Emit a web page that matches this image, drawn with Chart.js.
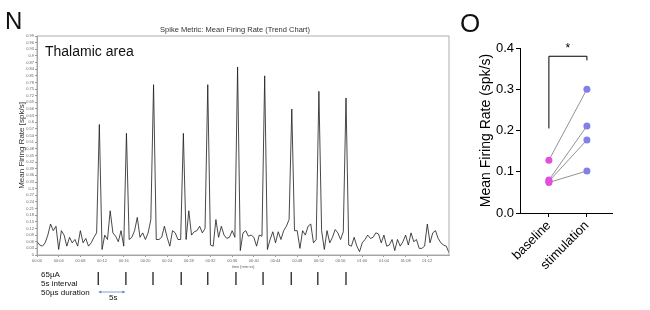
<!DOCTYPE html>
<html>
<head>
<meta charset="utf-8">
<script src="https://cdn.jsdelivr.net/npm/chart.js@4.4.1/dist/chart.umd.min.js"></script>
<style>
  body { margin: 0; background: #fff; width: 650px; height: 310px; overflow: hidden; position: relative;
         font-family: "Liberation Sans", Arial, sans-serif; }
  canvas { position: absolute; top: 0; }
  #trend { left: 0; }
  #paired { left: 450px; }
  .lbl { position: absolute; white-space: nowrap; color: #111; line-height: 1; }
</style>
</head>
<body>
<canvas id="trend" width="460" height="310"></canvas>
<canvas id="paired" width="200" height="310"></canvas>

<div class="lbl" style="left:5px;top:9px;font-size:24px">N</div>
<div class="lbl" style="left:460px;top:10px;font-size:26px">O</div>
<div class="lbl" style="left:235px;top:26px;font-size:7.5px;color:#333;transform:translateX(-50%)">Spike Metric: Mean Firing Rate (Trend Chart)</div>
<div class="lbl" style="left:45px;top:44px;font-size:14px">Thalamic area</div>
<div class="lbl" style="left:41px;top:271px;font-size:8px">65µA</div>
<div class="lbl" style="left:41px;top:280px;font-size:8px">5s interval</div>
<div class="lbl" style="left:41px;top:289px;font-size:8px">50µs duration</div>
<div class="lbl" style="left:109px;top:294px;font-size:8px">5s</div>

<script>
// ---- panel N: firing rate trace, one sample every 0.5 s ----
const sampleStep = 0.5;
const rate = [
  0.06, 0.045, 0.04, 0.055, 0.09, 0.14, 0.11, 0.13, 0.025, 0.11,
  0.09, 0.04, 0.08, 0.055, 0.07, 0.04, 0.11, 0.055, 0.075, 0.04,
  0.055, 0.08, 0.10, 0.59, 0.025, 0.09, 0.07, 0.20, 0.10, 0.085,
  0.06, 0.11, 0.04, 0.55, 0.07, 0.08, 0.11, 0.17, 0.08, 0.10,
  0.07, 0.10, 0.16, 0.77, 0.07, 0.07, 0.08, 0.13, 0.08, 0.04,
  0.11, 0.10, 0.07, 0.07, 0.55, 0.07, 0.20, 0.09, 0.105, 0.11,
  0.13, 0.10, 0.12, 0.77, 0.045, 0.04, 0.16, 0.08, 0.13, 0.09,
  0.075, 0.08, 0.11, 0.08, 0.85, 0.02, 0.10, 0.11, 0.085, 0.09,
  0.08, 0.04, 0.09, 0.085, 0.81, 0.025, 0.07, 0.105, 0.055, 0.105,
  0.07, 0.11, 0.13, 0.16, 0.66, 0.11, 0.11, 0.03, 0.11, 0.09,
  0.13, 0.14, 0.055, 0.07, 0.74, 0.11, 0.025, 0.11, 0.055, 0.08,
  0.115, 0.10, 0.07, 0.105, 0.71, 0.045, 0.04, 0.08, 0.04, 0.015,
  0.055, 0.07, 0.09, 0.075, 0.08, 0.10, 0.095, 0.055, 0.09, 0.04,
  0.045, 0.07, 0.02, 0.07, 0.04, 0.06, 0.09, 0.045, 0.10, 0.06,
  0.07, 0.03, 0.03, 0.04, 0.14, 0.055, 0.10, 0.11, 0.075, 0.055,
  0.045, 0.04, 0.01
];
const stimTimes = [11.3, 16.4, 21.4, 26.6, 31.5, 36.7, 41.7, 46.9, 51.8, 57.0];
const intervalSec = 5;
const yMaxN = 0.99;
const yStepN = 0.03;
const xMaxN = 76;
const xStepN = 4;
const lastTimeTick = 72;

// ---- panel O: paired mean firing rate ----
const groups = ['baseline', 'stimulation'];
const baseline = [0.128, 0.080, 0.077, 0.074];
const stimulation = [0.300, 0.211, 0.177, 0.102];
const yTicksO = [0, 0.1, 0.2, 0.3, 0.4];
const bracket = { top: 0.38, leftEnd: 0.205, rightEnd: 0.37, label: '*' };

const fam = "'Liberation Sans', Arial, sans-serif";
Chart.defaults.font.family = fam;
Chart.defaults.animation = false;

function mmss(v) {
  const m = Math.floor(v / 60), s = Math.round(v % 60);
  return String(m).padStart(2, '0') + ':' + String(s).padStart(2, '0');
}

const frame = {
  id: 'frame',
  afterDraw(chart) {
    const { ctx, chartArea: a } = chart;
    ctx.save();
    ctx.strokeStyle = '#9a9a9a';
    ctx.lineWidth = 0.8;
    ctx.strokeRect(a.left, a.top, a.right - a.left, a.bottom - a.top);
    ctx.restore();
  }
};

const stimMarks = {
  id: 'stimMarks',
  afterDraw(chart) {
    const { ctx } = chart;
    const x = chart.scales.x;
    ctx.save();
    ctx.strokeStyle = '#222';
    ctx.lineWidth = 1.3;
    stimTimes.forEach(t => {
      const px = x.getPixelForValue(t);
      ctx.beginPath();
      ctx.moveTo(px, 272);
      ctx.lineTo(px, 285);
      ctx.stroke();
    });
    // 5 s scale arrow under the first two pulses
    const a = x.getPixelForValue(stimTimes[0]);
    const b = x.getPixelForValue(stimTimes[0] + intervalSec);
    const y = 292;
    ctx.strokeStyle = '#5a86c8';
    ctx.fillStyle = '#5a86c8';
    ctx.lineWidth = 0.8;
    ctx.beginPath();
    ctx.moveTo(a + 2, y);
    ctx.lineTo(b - 2, y);
    ctx.stroke();
    [[a, 1], [b, -1]].forEach(([p, d]) => {
      ctx.beginPath();
      ctx.moveTo(p, y);
      ctx.lineTo(p + 3 * d, y - 1.6);
      ctx.lineTo(p + 3 * d, y + 1.6);
      ctx.closePath();
      ctx.fill();
    });
    ctx.restore();
  }
};

new Chart(document.getElementById('trend'), {
  type: 'line',
  data: {
    datasets: [{
      data: rate.map((v, i) => ({ x: i * sampleStep, y: v })),
      borderColor: '#1a1a1a',
      borderWidth: 0.8,
      pointRadius: 0,
      tension: 0
    }]
  },
  options: {
    responsive: false,
    layout: { padding: { left: 0, right: 11, top: 36, bottom: 40 } },
    plugins: { legend: { display: false }, tooltip: { enabled: false } },
    scales: {
      x: {
        type: 'linear',
        min: 0,
        max: xMaxN,
        afterFit: s => { s.height = 15; },
        afterBuildTicks: s => { s.ticks = s.ticks.filter(t => t.value <= lastTimeTick); },
        grid: { display: true, drawOnChartArea: false, color: '#999', tickLength: 2 },
        border: { color: '#9a9a9a', width: 0.8 },
        ticks: { stepSize: xStepN, autoSkip: false, maxRotation: 0, padding: 1, color: '#666',
                 font: { size: 4 }, callback: v => mmss(v) },
        title: { display: true, text: 'time [mm:ss]', color: '#666', font: { size: 4 },
                 padding: { top: 1, bottom: 1 } }
      },
      y: {
        min: 0,
        max: yMaxN,
        afterFit: s => { s.width = 37; },
        grid: { display: true, drawOnChartArea: false, color: '#999', tickLength: 2 },
        border: { color: '#9a9a9a', width: 0.8 },
        ticks: { stepSize: yStepN, autoSkip: false, padding: 1, color: '#666',
                 font: { size: 4 }, callback: v => String(+v.toFixed(2)) },
        title: { display: true, text: 'Mean Firing Rate [spk/s]', color: '#333',
                 font: { size: 8 }, padding: { top: 17, bottom: 0 } }
      }
    }
  },
  plugins: [frame, stimMarks]
});

const sigBracket = {
  id: 'sigBracket',
  afterDraw(chart) {
    const { ctx, scales: { x, y } } = chart;
    const x0 = x.getPixelForValue(0), x1 = x.getPixelForValue(1);
    const yt = y.getPixelForValue(bracket.top);
    ctx.save();
    ctx.strokeStyle = '#000';
    ctx.lineWidth = 1;
    ctx.beginPath();
    ctx.moveTo(x0, y.getPixelForValue(bracket.leftEnd));
    ctx.lineTo(x0, yt);
    ctx.lineTo(x1, yt);
    ctx.lineTo(x1, y.getPixelForValue(bracket.rightEnd));
    ctx.stroke();
    ctx.fillStyle = '#000';
    ctx.font = '12px ' + fam;
    ctx.textAlign = 'center';
    ctx.textBaseline = 'alphabetic';
    ctx.fillText(bracket.label, (x0 + x1) / 2, yt - 4);
    ctx.restore();
  }
};

const baseColor = '#e14fdc';
const stimColor = '#8080e8';

new Chart(document.getElementById('paired'), {
  type: 'line',
  data: {
    datasets: baseline.map((b, i) => ({
      data: [{ x: 0, y: b }, { x: 1, y: stimulation[i] }],
      borderColor: '#777',
      borderWidth: 0.8,
      pointRadius: 3.5,
      pointBorderWidth: 0,
      pointBackgroundColor: [baseColor, stimColor],
      tension: 0
    }))
  },
  options: {
    responsive: false,
    layout: { padding: { left: 0, right: 38, top: 48, bottom: 0 } },
    plugins: { legend: { display: false }, tooltip: { enabled: false } },
    scales: {
      x: {
        type: 'linear',
        min: -0.76,
        max: 1.66,
        afterFit: s => { s.height = 97; },
        afterBuildTicks: s => { s.ticks = groups.map((g, i) => ({ value: i })); },
        grid: { display: true, drawOnChartArea: false, color: '#000', tickLength: 4 },
        border: { color: '#000', width: 1 },
        ticks: { autoSkip: false, minRotation: 45, maxRotation: 45, padding: 1, color: '#000',
                 font: { size: 13 }, callback: v => groups[v] }
      },
      y: {
        min: 0,
        max: 0.4,
        afterFit: s => { s.width = 70; },
        afterBuildTicks: s => { s.ticks = yTicksO.map(v => ({ value: v })); },
        grid: { display: true, drawOnChartArea: false, color: '#000', tickLength: 4 },
        border: { color: '#000', width: 1 },
        ticks: { padding: 2, color: '#000', font: { size: 13 }, callback: v => v.toFixed(1) },
        title: { display: true, text: 'Mean Firing Rate (spk/s)', color: '#000',
                 font: { size: 14 }, padding: { top: 28, bottom: 0 } }
      }
    }
  },
  plugins: [sigBracket]
});
</script>
</body>
</html>
